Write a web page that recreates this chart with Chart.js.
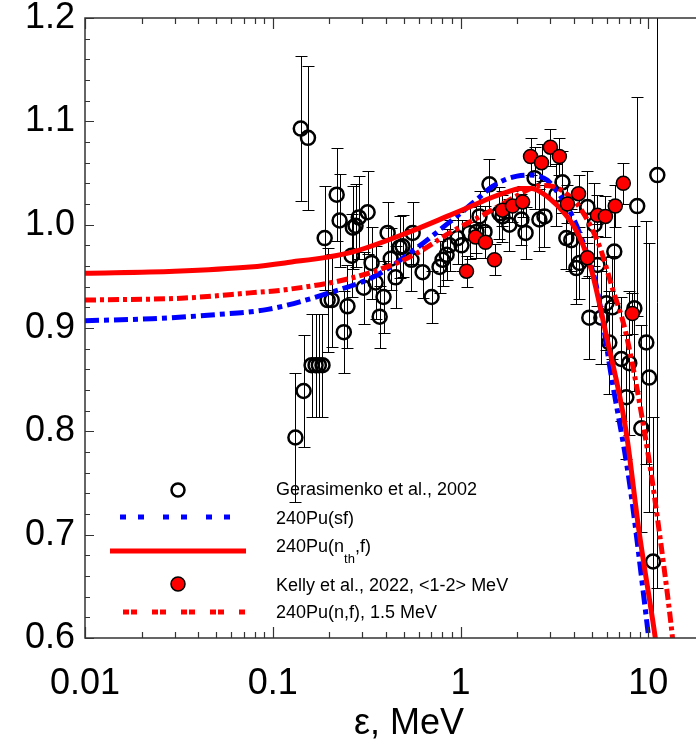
<!DOCTYPE html>
<html><head><meta charset="utf-8">
<script src="https://cdn.jsdelivr.net/npm/chart.js@4.4.1/dist/chart.umd.min.js"></script>
<style>html,body{margin:0;padding:0;background:#fff;} #wrap{width:696px;height:749px;}</style>
</head><body><div id="wrap"><canvas id="c" width="696" height="749"></canvas></div>
<script>
// Gerasimenko et al., 2002 (open circles)
const gerX = [0.132,0.141,0.146,0.154,0.161,0.169,0.176,0.184,0.189,0.196,0.206,0.219,0.227,0.239,0.250,0.263,0.267,0.276,0.287,0.305,0.320,0.336,0.353,0.371,0.389,0.409,0.425,0.451,0.474,0.491,0.548,0.556,0.628,0.701,0.773,0.802,0.843,0.874,0.964,1.012,1.117,1.216,1.262,1.342,1.426,1.611,1.672,1.82,2.11,2.22,2.48,2.63,2.80,3.24,3.49,3.66,3.89,4.14,4.30,4.74,4.85,5.17,5.36,5.62,5.98,6.2,6.44,6.59,7.18,7.64,7.92,8.43,8.73,9.18,9.76,10.1,10.6,11.17];
const gerY = [0.794,1.093,0.839,1.084,0.864,0.864,0.864,0.864,0.987,0.927,0.927,1.029,1.004,0.896,0.921,0.970,0.997,0.999,1.007,0.939,1.012,0.963,0.944,0.911,0.930,0.992,0.967,0.949,0.978,0.979,0.966,0.992,0.954,0.930,0.959,0.966,0.971,0.980,0.987,0.980,0.992,0.993,1.008,0.993,1.039,1.011,1.008,1.000,1.005,0.992,1.045,1.005,1.008,1.029,1.041,0.987,0.985,0.958,0.963,1.017,0.910,1.000,0.961,0.910,0.924,0.886,0.920,0.974,0.870,0.833,0.866,0.919,1.018,0.803,0.886,0.852,0.674,1.048];
const gerErr = [0.062,0.07,0.054,0.07,0.05,0.05,0.05,0.05,0.05,0.05,0.045,0.045,0.045,0.04,0.04,0.04,0.04,0.04,0.04,0.035,0.04,0.035,0.035,0.03,0.035,0.03,0.03,0.03,0.03,0.03,0.03,0.03,0.025,0.025,0.025,0.025,0.025,0.025,0.025,0.025,0.025,0.025,0.025,0.025,0.025,0.025,0.025,0.025,0.025,0.025,0.03,0.03,0.03,0.03,0.03,0.03,0.03,0.035,0.035,0.035,0.04,0.04,0.04,0.045,0.045,0.05,0.05,0.05,0.06,0.06,0.07,0.08,0.106,0.1,0.118,0.13,0.14,0.4];
// Kelly et al., 2022 (filled red circles)
const kelX = [1.076,1.202,1.358,1.517,1.67,1.89,2.14,2.36,2.70,3.01,3.36,3.71,4.25,4.74,5.36,5.91,6.67,7.36,8.22];
const kelY = [0.955,0.988,0.983,0.966,1.014,1.018,1.022,1.066,1.060,1.075,1.066,1.020,1.030,0.968,1.009,1.008,1.018,1.040,0.914];
const kelErr = [0.015,0.015,0.015,0.015,0.015,0.015,0.015,0.018,0.018,0.018,0.018,0.018,0.018,0.02,0.02,0.02,0.02,0.02,0.02];
// 240Pu(sf)
const sfX = [0.01,0.0227,0.05,0.094,0.2,0.357,0.6,0.84,1.0,1.25,1.48,1.75,2.0,2.3,2.6,2.9,3.3,3.8,4.45,5.3,6.4,7.9,9.8,10.5];
const sfY = [0.907,0.909,0.913,0.918,0.934,0.951,0.979,1.000,1.011,1.026,1.037,1.044,1.047,1.048,1.047,1.043,1.031,1.014,0.985,0.940,0.850,0.753,0.617,0.57];
// 240Pu(nth,f)
const nthX = [0.01,0.03,0.0755,0.116,0.258,0.535,0.874,1.11,1.5,1.8,2.1,2.4,2.7,3.0,3.5,4.0,4.5,5.0,5.94,7.6,8.9,10.8,11.5];
const nthY = [0.953,0.955,0.959,0.963,0.973,0.993,1.009,1.017,1.027,1.032,1.035,1.035,1.031,1.025,1.013,0.999,0.980,0.955,0.895,0.801,0.705,0.605,0.57];
// 240Pu(n,f), 1.5 MeV
const n15X = [0.01,0.034,0.0755,0.116,0.258,0.473,0.607,0.874,1.37,2.0,2.3,2.54,2.8,3.1,3.6,4.3,5.5,6.4,7.6,10.1,11.4,13.2,14];
const n15Y = [0.927,0.929,0.934,0.937,0.948,0.964,0.974,0.992,1.011,1.028,1.034,1.037,1.038,1.037,1.031,1.017,0.979,0.940,0.895,0.772,0.705,0.614,0.57];
// ticks
const xTickVals = [0.01,0.1,1,10];
const xTickLabels = ['0.01','0.1','1','10'];
const yMin = 0.6, yMax = 1.2, yStep = 0.1;
const xMin = 0.01, xMax = 17.95;

const pts = (xs, ys) => xs.map((x, i) => ({x, y: ys[i]}));
const FONT = '"Liberation Sans", Arial, sans-serif';

const errBars = {
  id: 'errBars',
  beforeDatasetsDraw(chart) {
    const {ctx, chartArea: a, scales: {x, y}} = chart;
    ctx.save();
    ctx.beginPath(); ctx.rect(a.left, a.top, a.right - a.left, a.bottom - a.top); ctx.clip();
    ctx.strokeStyle = '#000'; ctx.lineWidth = 1;
    const draw = (xs, ys, es) => xs.forEach((xv, i) => {
      const px = Math.round(x.getPixelForValue(xv)) + 0.5;
      const t = Math.round(y.getPixelForValue(ys[i] + es[i])) + 0.5;
      const b = Math.round(y.getPixelForValue(ys[i] - es[i])) + 0.5;
      ctx.beginPath();
      ctx.moveTo(px, t); ctx.lineTo(px, b);
      ctx.moveTo(px - 6, t); ctx.lineTo(px + 6, t);
      ctx.moveTo(px - 6, b); ctx.lineTo(px + 6, b);
      ctx.stroke();
    });
    draw(gerX, gerY, gerErr);
    draw(kelX, kelY, kelErr);
    ctx.restore();
  }
};

const frame = {
  id: 'frame',
  afterDraw(chart) {
    const {ctx, chartArea: a, scales: {x, y}} = chart;
    ctx.save();
    ctx.strokeStyle = '#333'; ctx.lineWidth = 1.5;
    ctx.beginPath();
    ctx.moveTo(a.right + 2, a.top); ctx.lineTo(a.left, a.top); ctx.lineTo(a.left, a.bottom); ctx.lineTo(a.right + 2, a.bottom);
    ctx.stroke();
    ctx.lineWidth = 1.2;
    ctx.beginPath();
    for (let d = -2; d <= 1; d++) {
      for (let m = 1; m <= 9; m++) {
        const v = m * Math.pow(10, d);
        if (v < xMin - 1e-9 || v > xMax) continue;
        const px = Math.round(x.getPixelForValue(v)) + 0.5;
        const len = m === 1 ? 11 : 6;
        ctx.moveTo(px, a.bottom); ctx.lineTo(px, a.bottom - len);
        ctx.moveTo(px, a.top); ctx.lineTo(px, a.top + len);
      }
    }
    for (let k = 0; k <= 30; k++) {
      const v = yMin + k * 0.02;
      const py = Math.round(y.getPixelForValue(v)) + 0.5;
      const len = k % 5 === 0 ? 9 : 5;
      ctx.moveTo(a.left, py); ctx.lineTo(a.left + len, py);
    }
    ctx.stroke();

    ctx.fillStyle = '#000';
    ctx.font = '36px ' + FONT;
    ctx.textAlign = 'center'; ctx.textBaseline = 'middle';
    ctx.fillText('\u03b5, MeV', 409, 724);

    const lx = 178;
    ctx.lineWidth = 2.5; ctx.strokeStyle = '#000';
    ctx.beginPath(); ctx.arc(lx, 490, 6.5, 0, Math.PI * 2); ctx.stroke();
    ctx.lineWidth = 5;
    ctx.strokeStyle = '#0000ff'; ctx.setLineDash([6, 12, 6, 19]);
    ctx.beginPath(); ctx.moveTo(120, 517); ctx.lineTo(232, 517); ctx.stroke();
    ctx.strokeStyle = '#ff0000'; ctx.setLineDash([]);
    ctx.beginPath(); ctx.moveTo(110, 551); ctx.lineTo(246, 551); ctx.stroke();
    ctx.setLineDash([6, 2, 6, 15]);
    ctx.beginPath(); ctx.moveTo(123, 612); ctx.lineTo(247, 612); ctx.stroke();
    ctx.setLineDash([]);
    ctx.fillStyle = '#ff0000'; ctx.strokeStyle = '#000'; ctx.lineWidth = 1.5;
    ctx.beginPath(); ctx.arc(lx, 584, 7, 0, Math.PI * 2); ctx.fill(); ctx.stroke();

    ctx.fillStyle = '#000';
    ctx.font = '18px ' + FONT;
    ctx.textAlign = 'left'; ctx.textBaseline = 'middle';
    const tx = 276;
    ctx.fillText('Gerasimenko et al., 2002', tx, 490);
    ctx.fillText('240Pu(sf)', tx, 519);
    const p1 = '240Pu(n';
    ctx.fillText(p1, tx, 547);
    let w = ctx.measureText(p1).width;
    ctx.font = '13px ' + FONT;
    ctx.fillText('th', tx + w, 559);
    const w2 = ctx.measureText('th').width;
    ctx.font = '18px ' + FONT;
    ctx.fillText(',f)', tx + w + w2, 547);
    ctx.fillText('Kelly et al., 2022, <1-2> MeV', tx, 586);
    ctx.fillText('240Pu(n,f), 1.5 MeV', tx, 613);
    ctx.restore();
  }
};

new Chart(document.getElementById('c'), {
  type: 'scatter',
  data: {
    datasets: [
      { label: 'Gerasimenko et al., 2002', data: pts(gerX, gerY), order: 5,
        pointRadius: 7, pointBorderWidth: 2.5, pointBorderColor: '#000', pointBackgroundColor: 'rgba(0,0,0,0)', showLine: false },
      { label: '240Pu(sf)', type: 'line', data: pts(sfX, sfY), order: 4,
        borderColor: '#0000ff', borderWidth: 5, borderDash: [14, 5, 5, 5], pointRadius: 0, cubicInterpolationMode: 'monotone', fill: false },
      { label: '240Pu(nth,f)', type: 'line', data: pts(nthX, nthY), order: 3,
        borderColor: '#ff0000', borderWidth: 5, pointRadius: 0, cubicInterpolationMode: 'monotone', fill: false },
      { label: '240Pu(n,f), 1.5 MeV', type: 'line', data: pts(n15X, n15Y), order: 2,
        borderColor: '#ff0000', borderWidth: 5, borderDash: [11, 4, 4, 4], pointRadius: 0, cubicInterpolationMode: 'monotone', fill: false },
      { label: 'Kelly et al., 2022, <1-2> MeV', data: pts(kelX, kelY), order: 1,
        pointRadius: 7, pointBorderWidth: 1.5, pointBorderColor: '#000', pointBackgroundColor: '#ff0000', showLine: false }
    ]
  },
  options: {
    responsive: false, animation: false,
    layout: { autoPadding: false, padding: { top: 18, right: 0, left: 0, bottom: 0 } },
    plugins: { legend: { display: false }, tooltip: { enabled: false } },
    scales: {
      x: {
        type: 'logarithmic', min: xMin, max: xMax,
        afterBuildTicks: s => { s.ticks = xTickVals.map(v => ({value: v})); },
        afterFit: s => { s.height = 111; s.paddingLeft = 0; s.paddingRight = 0; },
        grid: { display: false, drawTicks: false },
        border: { display: false },
        ticks: { autoSkip: false, maxRotation: 0, padding: 24, color: '#000',
          font: { family: FONT, size: 36 },
          callback: (v) => { const i = xTickVals.findIndex(t => Math.abs(t - v) / t < 1e-6); return i >= 0 ? xTickLabels[i] : ''; } }
      },
      y: {
        min: yMin, max: yMax,
        afterFit: s => { s.width = 85; s.paddingTop = 0; s.paddingBottom = 0; },
        grid: { display: false, drawTicks: false },
        border: { display: false },
        ticks: { stepSize: yStep, padding: 10, color: '#000',
          font: { family: FONT, size: 36 },
          callback: v => Number(v).toFixed(1) }
      }
    }
  },
  plugins: [errBars, frame]
});
</script>
</body></html>
